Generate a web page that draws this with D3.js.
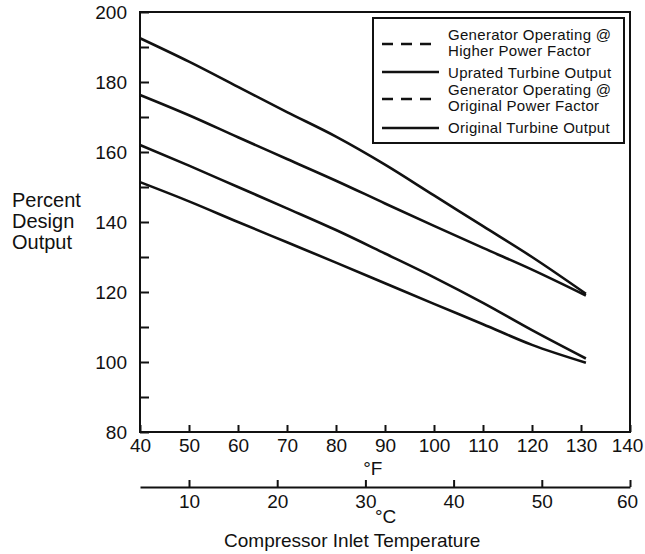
<!DOCTYPE html>
<html>
<head>
<meta charset="utf-8">
<script src="https://cdn.jsdelivr.net/npm/d3@7"></script>
<style>
  body { margin: 0; background: #fff; }
  svg { font-family: "Liberation Sans", Arial, sans-serif; }
  .axis path, .axis line { stroke: #111; stroke-width: 2; }
  .axis text { font-size: 19px; fill: #111; }
</style>
</head>
<body>
<svg width="645" height="554"></svg>
<script>
"use strict";

// values
var tempF = [40, 50, 60, 70, 80, 90, 100, 110, 120, 131];
var genHigherPF = [192.5, 185.8, 178.6, 171.4, 164.4, 156.4, 147.6, 138.8, 130, 119.5];
var upratedTurbine = [176.3, 170.5, 164.2, 158, 151.8, 145.3, 138.9, 132.6, 126.4, 119];
var genOriginalPF = [162, 156.1, 150, 143.9, 137.7, 131, 124.2, 116.9, 109.1, 101];
var originalTurbine = [151.4, 145.9, 140, 134.2, 128.4, 122.5, 116.6, 110.8, 104.9, 99.8];

var yTicks = [80, 90, 100, 110, 120, 130, 140, 150, 160, 170, 180, 190, 200];
var yLabels = [80, 100, 120, 140, 160, 180, 200];
var fTicks = [40, 50, 60, 70, 80, 90, 100, 110, 120, 130, 140];
var cTicks = [10, 20, 30, 40, 50, 60];

var legendItems = [
  {lines: ["Generator Operating @", "Higher Power Factor"], dash: "11,8"},
  {lines: ["Uprated Turbine Output"], dash: null},
  {lines: ["Generator Operating @", "Original Power Factor"], dash: "11,8"},
  {lines: ["Original Turbine Output"], dash: null}
];

var svg = d3.select("svg"),
  margin = {top: 12, right: 15, bottom: 122, left: 140},
  width = 645 - margin.left - margin.right,
  height = 554 - margin.top - margin.bottom,
  g = svg.append("g").attr("transform", "translate(" + margin.left + "," + margin.top + ")");

var x = d3.scaleLinear().domain([40, 140]).range([0, width]),
  y = d3.scaleLinear().domain([80, 200]).range([height, 0]),
  xc = d3.scaleLinear().domain([(40 - 32) / 1.8, 60]).range([0, width]);

// frame
g.append("rect")
  .attr("width", width).attr("height", height)
  .attr("fill", "none").attr("stroke", "#111").attr("stroke-width", 2);

// y axis, ticks pointing in
g.append("g")
  .attr("class", "axis")
  .call(d3.axisLeft(y).tickValues(yTicks).tickSize(-9).tickPadding(13)
    .tickFormat(function(d) { return yLabels.indexOf(d) >= 0 ? d : ""; }))
  .call(function(a) { a.select(".domain").remove(); })
  .selectAll("text").attr("dy", "0.36em");

// °F axis
g.append("g")
  .attr("class", "axis")
  .attr("transform", "translate(0," + height + ")")
  .call(d3.axisBottom(x).tickValues(fTicks).tickSize(-7).tickPadding(7))
  .call(function(a) { a.select(".domain").remove(); })
  .selectAll("text").attr("dx", function(d) { return d === 140 ? -3 : 0; });

g.append("text")
  .attr("x", x(87.5)).attr("y", 463)
  .attr("text-anchor", "middle").attr("font-size", 19).attr("fill", "#111")
  .text("°F");

// °C axis
var cAxisY = 475;
g.append("g")
  .attr("class", "axis")
  .attr("transform", "translate(0," + cAxisY + ")")
  .call(d3.axisBottom(xc).tickValues(cTicks).tickSize(-7).tickPadding(8).tickSizeOuter(0))
  .selectAll("text").attr("dx", function(d) { return d === 60 ? -3 : 0; });

g.append("text")
  .attr("x", xc(32.3)).attr("y", cAxisY + 36)
  .attr("text-anchor", "middle").attr("font-size", 19).attr("fill", "#111")
  .text("°C");

g.append("text")
  .attr("x", xc(28.5)).attr("y", cAxisY + 60)
  .attr("text-anchor", "middle").attr("font-size", 19).attr("fill", "#111")
  .text("Compressor Inlet Temperature");

// y title
svg.append("text")
  .attr("x", 12).attr("y", 207)
  .attr("font-size", 20).attr("fill", "#111")
  .selectAll("tspan")
  .data(["Percent", "Design", "Output"])
  .enter().append("tspan")
  .attr("x", 12)
  .attr("dy", function(d, i) { return i ? 21 : 0; })
  .text(function(d) { return d; });

// curves
var series = [genHigherPF, upratedTurbine, genOriginalPF, originalTurbine];
var line = d3.line()
  .x(function(d) { return x(d[0]); })
  .y(function(d) { return y(d[1]); })
  .curve(d3.curveMonotoneX);

g.selectAll(".curve")
  .data(series)
  .enter().append("path")
  .attr("class", "curve")
  .attr("fill", "none")
  .attr("stroke", "#111")
  .attr("stroke-width", 2.6)
  .attr("d", function(s) { return line(s.map(function(v, i) { return [tempF[i], v]; })); });

// legend
var lg = svg.append("g").attr("transform", "translate(373,18)");
lg.append("rect")
  .attr("width", 251).attr("height", 125)
  .attr("fill", "#fff").attr("stroke", "#111").attr("stroke-width", 2);

var rowY = [26, 54, 81, 110],
  textY = [[22, 38], [60], [77, 93], [115]];

legendItems.forEach(function(item, i) {
  lg.append("line")
    .attr("x1", 9).attr("x2", 66)
    .attr("y1", rowY[i]).attr("y2", rowY[i])
    .attr("stroke", "#111").attr("stroke-width", 2.6)
    .attr("stroke-dasharray", item.dash);
  item.lines.forEach(function(t, j) {
    lg.append("text")
      .attr("x", 75).attr("y", textY[i][j])
      .attr("font-size", 15).attr("letter-spacing", 0.3).attr("fill", "#111")
      .text(t);
  });
});
</script>
</body>
</html>
